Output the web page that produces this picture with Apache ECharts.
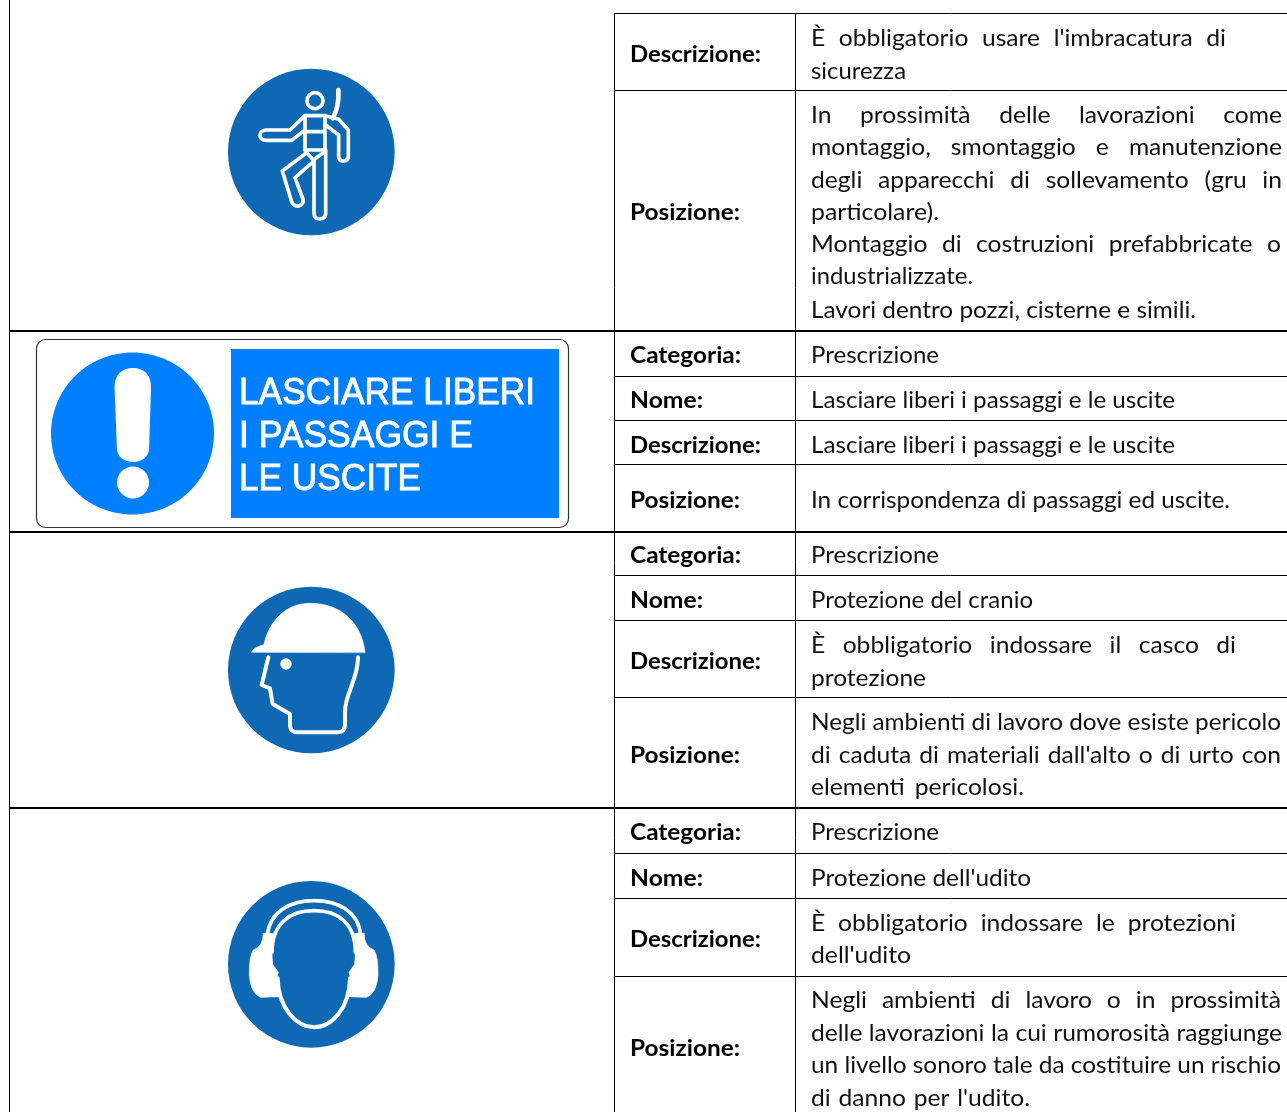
<!DOCTYPE html>
<html><head><meta charset="utf-8">
<style>html,body{margin:0;padding:0;background:#fff}#c{width:1287px;height:1112px}</style>
<script src="https://cdn.jsdelivr.net/npm/echarts@6/dist/echarts.min.js"></script>
</head><body><div id="c"></div>
<script>
// ---- content ----
const labels = ['Descrizione:','Posizione:','Categoria:','Nome:','Descrizione:','Posizione:','Categoria:','Nome:','Descrizione:','Posizione:','Categoria:','Nome:','Descrizione:','Posizione:'];
const row0 = ["È obbligatorio usare l'imbracatura di","sicurezza"];
const row1 = ["In prossimità delle lavorazioni come","montaggio, smontaggio e manutenzione","degli apparecchi di sollevamento (gru in","particolare).","Montaggio di costruzioni prefabbricate o","industrializzate.","Lavori dentro pozzi, cisterne e simili."];
const row2 = ["Prescrizione"];
const row3 = ["Lasciare liberi i passaggi e le uscite"];
const row4 = ["Lasciare liberi i passaggi e le uscite"];
const row5 = ["In corrispondenza di passaggi ed uscite."];
const row6 = ["Prescrizione"];
const row7 = ["Protezione del cranio"];
const row8 = ["È obbligatorio indossare il casco di","protezione"];
const row9 = ["Negli ambienti di lavoro dove esiste pericolo","di caduta di materiali dall'alto o di urto con","elementi pericolosi."];
const row10 = ["Prescrizione"];
const row11 = ["Protezione dell'udito"];
const row12 = ["È obbligatorio indossare le protezioni","dell'udito"];
const row13 = ["Negli ambienti di lavoro o in prossimità","delle lavorazioni la cui rumorosità raggiunge","un livello sonoro tale da costituire un rischio","di danno per l'udito."];
const signLines = ["LASCIARE LIBERI","I PASSAGGI E","LE USCITE"];

// ---- layout ----
const rowsText = [row0,row1,row2,row3,row4,row5,row6,row7,row8,row9,row10,row11,row12,row13];
const labelY = [54,212,355,400,445,500,555,600,661,755,832,878,939,1048];
const lineY = [[38,71],[115,147,180,212,244,276,310],[355],[400],[445],[500],[555],[600],[645,678],[722,755,787],[832],[878],[923,955],[1000,1033,1065,1098]];
const lineEnd = [[1226,906],[1282,1282,1282,939,1281,973,1196],[939],[1175],[1175],[1230],[939],[1033],[1236,926],[1281,1281,1024],[939],[1031],[1236,911],[1281,1282,1281,1030]];
const labelEnd = {'Descrizione:':761,'Posizione:':740,'Categoria:':741,'Nome:':703};
const thin = [[614,1287,13.5],[614,1287,90.5],[614,1287,376.5],[614,1287,420.5],[614,1287,464.5],[614,1287,575.5],[614,1287,620.5],[614,1287,697.5],[614,1287,853.5],[614,1287,898.5],[614,1287,976.5]];
const thick = [331,532,808];
const FONT = 'Lato, "Open Sans", sans-serif';
const FS = 23, DY = 1;

const mc = document.createElement('canvas').getContext('2d');
function w(t,f){mc.font=f;return mc.measureText(t).width;}
const els = [];
function txt(t,x,y,font,fill,sx,sw){
  const style={text:t,x:0,y:0,font:font,fill:fill,textAlign:'left',textVerticalAlign:'middle'};
  if(sw){style.stroke=fill;style.lineWidth=sw;}
  els.push({type:'text',x:x,y:y,scaleX:sx,silent:true,style:style});
}
function fit(t,x0,x1,y,font,fill){
  const words=t.split(' '), total=w(t,font), target=x1-x0, r=target/total;
  if(words.length===1 || Math.abs(r-1)<0.05){ txt(t,x0,y,font,fill,r); return; }
  const s=Math.min(1.07,r);
  const sum=words.reduce((a,b)=>a+w(b,font),0), gap=(target-sum*s)/(words.length-1);
  let x=x0; words.forEach(q=>{txt(q,x,y,font,fill,s); x+=w(q,font)*s+gap;});
}
function ln(x1,y1,x2,y2,lw){els.push({type:'line',silent:true,shape:{x1,y1,x2,y2},style:{stroke:'#000',lineWidth:lw}});}

thin.forEach(a=>ln(a[0],a[2],a[1],a[2],1));
thick.forEach(y=>ln(9,y,1287,y,2));
ln(9.5,0,9.5,1112,1); ln(614.5,13,614.5,1112,1); ln(795.5,13,795.5,1112,1);

labels.forEach((t,i)=>fit(t,630,labelEnd[t],labelY[i]+DY,'bold '+FS+'px '+FONT,'#000'));
rowsText.forEach((ls,i)=>ls.forEach((t,j)=>fit(t,811,lineEnd[i][j],lineY[i][j]+DY,FS+'px '+FONT,'#111')));

// ---- icons ----
let pid=0;
function shape(d){const n='svgp'+(pid++);echarts.graphic.registerShape(n,echarts.graphic.extendPath(d,{}));return n;}
const BLUE='#0e68b3', W='#fff';
function P(d,lw,fill,stroke){return {type:shape(d),silent:true,style:{fill:fill||'none',stroke:stroke===undefined?W:stroke,lineWidth:lw===undefined?11:lw,lineJoin:'round',lineCap:'round'}};}
function icon(ox,oy,cy,kids){
  els.push({type:'group',x:ox,y:oy,scaleX:1/3,scaleY:1/3,silent:true,children:[
    {type:'circle',shape:{cx:304,cy:cy,r:250},style:{fill:BLUE}}].concat(kids)});
}
icon(210,50,306,[
  {type:'circle',shape:{cx:315,cy:152,r:24},style:{fill:'none',stroke:W,lineWidth:11}},
  P('M385 120 Q388 170 368 205',14),
  P('M285 197 L345 197 L345 300 L285 300 Z M285 245 L342 245'),
  P('M285 197 L240 240 L168 240 Q150 242 150 255 Q150 270 168 271 L245 271 L285 240'),
  P('M345 197 L385 207 L415 240 L415 318 Q415 333 400 333 Q386 333 386 318 L386 255 L347 225'),
  P('M312 330 L312 490 Q312 507 329 507 Q347 507 347 490 L347 300'),
  P('M288 310 L217 363 L245 455 Q252 470 267 468 Q282 462 279 447 L255 383 L310 335'),
  P('M285 302 L310 330 L340 308')
]);
icon(210,570,300,[
  P('M125 246 Q130 232 162 224 C178 150 230 100 300 100 C395 100 455 160 465 247 Z',2,W),
  {type:'circle',shape:{cx:228,cy:282,r:17},style:{fill:W}},
  P('M175 262 L155 345 L180 355 L188 402 L240 432 L240 468 Q242 487 262 487 L385 487 Q405 485 405 465 L405 425 C405 370 444 330 444 262',12)
]);
const earL='M160 205 L188 205 L186 270 L188 298 L205 322 L198 345 L208 395 L152 397 Q122 385 118 330 Q117 275 130 255 Q160 245 160 205 Z';
icon(210,865,298,[
  P(earL,2,W),
  {type:'group',x:622,scaleX:-1,children:[P(earL,2,W)]},
  P('M172 210 C180 140 240 107 312 107 C385 107 445 140 452 210',11),
  P('M186 262 C186 175 240 137 312 137 C385 137 436 175 436 262',11),
  P('M203 340 C205 430 260 487 312 487 C365 487 418 430 420 340',12)
]);

// ---- second sign ----
els.push({type:'rect',silent:true,shape:{x:36.5,y:339.5,width:532,height:188,r:9},style:{fill:'#fff',stroke:'#333',lineWidth:1.2}});
els.push({type:'ellipse',silent:true,shape:{cx:132.5,cy:433.5,rx:81.5,ry:81},style:{fill:'#0080ff'}});
els.push(P('M114.5 388 C114.5 374 122 368 133 368 C144 368 151 374 151 388 L149 450 C148 457 142 462 133 462 C124 462 118 457 117 450 Z',0,W,'none'));
els.push({type:'ellipse',silent:true,shape:{cx:133,cy:482.5,rx:16,ry:16},style:{fill:'#fff'}});
els.push({type:'rect',silent:true,shape:{x:231,y:349,width:328,height:169},style:{fill:'#0080ff'}});
const signFont='37.5px "Liberation Sans", Arial, sans-serif';
const signY=[394,437,480], signEnd=[535,473,421];
signLines.forEach((t,i)=>txt(t,239,signY[i],signFont,'#fff',(signEnd[i]-239)/w(t,signFont),0.9));

const chart = echarts.init(document.getElementById('c'),null,{renderer:'canvas'});
chart.setOption({animation:false,backgroundColor:'#fff',graphic:{elements:els}});
</script></body></html>
